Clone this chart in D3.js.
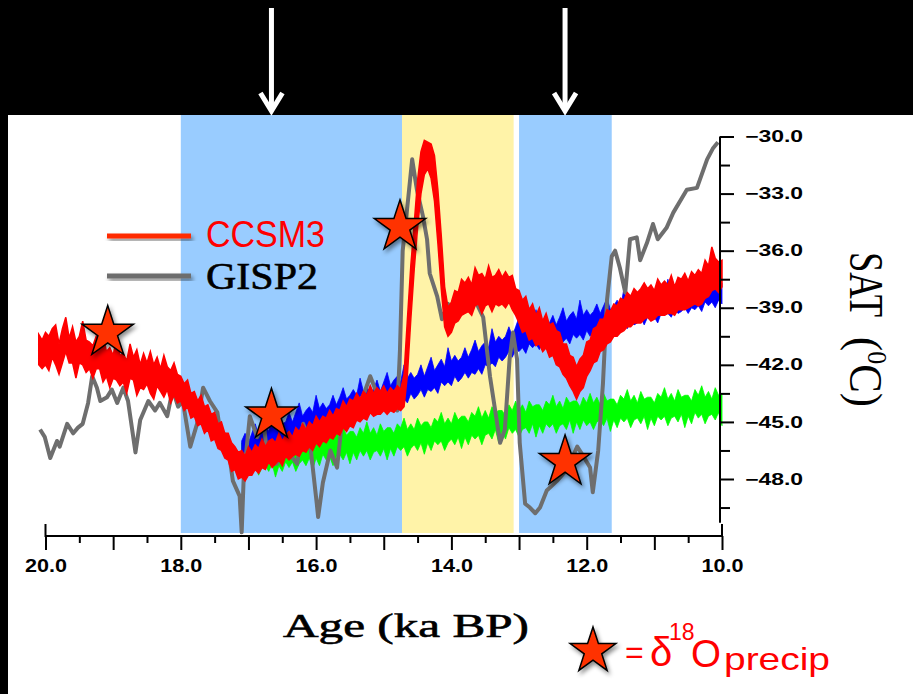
<!DOCTYPE html>
<html>
<head>
<meta charset="utf-8">
<script src="https://cdn.jsdelivr.net/npm/d3@7"></script>
<style>
  html, body { margin: 0; padding: 0; background: #000; }
  svg { display: block; }
</style>
</head>
<body>
<script>
// shaded periods (ka BP)
const bandStart = [18.0, 14.73, 13.0]
const bandEnd = [14.73, 13.08, 11.63]
const bandKind = ['cold', 'warm', 'cold']

// arrows on top + δ18O stars
const arrowAge = [16.66, 12.32]
const starAge = [19.08, 16.66, 14.76, 12.32]
const starTemp = [-40.3, -44.65, -34.75, -47.1]

// axis labels
const xTicks = [20, 18, 16, 14, 12, 10]
const yTicks = [-30, -33, -36, -39, -42, -45, -48]

// model time axis (ka BP), 50-yr output
const age = [20.1, 20.05, 20, 19.95, 19.9, 19.85, 19.8, 19.75, 19.7, 19.65, 19.6, 19.55, 19.5, 19.45, 19.4, 19.35, 19.3, 19.25, 19.2, 19.15,
  19.1, 19.05, 19, 18.95, 18.9, 18.85, 18.8, 18.75, 18.7, 18.65, 18.6, 18.55, 18.5, 18.45, 18.4, 18.35, 18.3, 18.25, 18.2, 18.15,
  18.1, 18.05, 18, 17.95, 17.9, 17.85, 17.8, 17.75, 17.7, 17.65, 17.6, 17.55, 17.5, 17.45, 17.4, 17.35, 17.3, 17.25, 17.2, 17.15,
  17.1, 17.05, 17, 16.95, 16.9, 16.85, 16.8, 16.75, 16.7, 16.65, 16.6, 16.55, 16.5, 16.45, 16.4, 16.35, 16.3, 16.25, 16.2, 16.15,
  16.1, 16.05, 16, 15.95, 15.9, 15.85, 15.8, 15.75, 15.7, 15.65, 15.6, 15.55, 15.5, 15.45, 15.4, 15.35, 15.3, 15.25, 15.2, 15.15,
  15.1, 15.05, 15, 14.95, 14.9, 14.85, 14.8, 14.75, 14.7, 14.65, 14.6, 14.55, 14.5, 14.45, 14.4, 14.35, 14.3, 14.25, 14.2, 14.15,
  14.1, 14.05, 14, 13.95, 13.9, 13.85, 13.8, 13.75, 13.7, 13.65, 13.6, 13.55, 13.5, 13.45, 13.4, 13.35, 13.3, 13.25, 13.2, 13.15,
  13.1, 13.05, 13, 12.95, 12.9, 12.85, 12.8, 12.75, 12.7, 12.65, 12.6, 12.55, 12.5, 12.45, 12.4, 12.35, 12.3, 12.25, 12.2, 12.15,
  12.1, 12.05, 12, 11.95, 11.9, 11.85, 11.8, 11.75, 11.7, 11.65, 11.6, 11.55, 11.5, 11.45, 11.4, 11.35, 11.3, 11.25, 11.2, 11.15,
  11.1, 11.05, 11, 10.95, 10.9, 10.85, 10.8, 10.75, 10.7, 10.65, 10.6, 10.55, 10.5, 10.45, 10.4, 10.35, 10.3, 10.25, 10.2, 10.15,
  10.1, 10.05, 10]

// CCSM3 (red): upper / lower edge of the noisy trace, one value per age
const ccsmHi = [-40.4, -40.7, -40.3, -40.5, -40.1, -39.9, -40.9, -40.1, -39.5, -40.6, -40.0, -40.8, -40.5, -39.7, -40.7, -40.8, -41.0, -40.5, -41.0, -40.4,
  -41.3, -41.1, -41.5, -40.6, -41.5, -41.4, -41.8, -40.9, -41.6, -41.2, -42.0, -41.4, -41.9, -41.3, -42.0, -41.6, -42.2, -41.5, -42.1, -42.3,
  -41.9, -42.5, -42.6, -43.0, -42.8, -43.5, -43.4, -43.9, -43.6, -44.2, -44.1, -44.6, -44.5, -45.1, -45.0, -45.6, -45.6, -46.1, -46.3, -46.6,
  -46.5, -46.8, -46.3, -46.6, -46.2, -46.4, -45.9, -46.3, -46.0, -45.9, -46.1, -45.6, -46.0, -45.7, -45.5, -45.8, -45.3, -45.5, -45.1, -45.4,
  -45.0, -45.2, -44.7, -45.0, -44.7, -44.8, -44.4, -44.7, -44.3, -44.4, -43.9, -44.2, -43.8, -43.9, -43.5, -43.8, -43.4, -43.6, -43.1, -43.5,
  -43.2, -43.4, -43.1, -43.5, -43.2, -43.4, -43.1, -43.3, -42.5, -39.6, -36.8, -34.6, -32.3, -30.8, -30.2, -30.3, -30.4, -31.0, -32.8, -35.2,
  -37.9, -39.0, -38.7, -38.1, -38.2, -37.5, -37.7, -37.4, -37.8, -36.9, -37.3, -37.2, -37.5, -36.8, -37.4, -37.3, -37.0, -37.4, -37.1, -37.4,
  -37.3, -38.0, -38.1, -38.6, -38.4, -39.1, -38.8, -39.4, -39.0, -39.7, -39.3, -39.9, -39.8, -40.2, -40.3, -40.9, -40.9, -41.5, -41.6, -42.1,
  -41.7, -41.5, -40.8, -40.7, -40.1, -40.0, -39.6, -39.6, -39.1, -39.2, -38.8, -38.9, -38.5, -38.6, -38.2, -38.4, -38.0, -38.2, -38.0, -37.7,
  -38.0, -37.8, -38.1, -37.5, -37.8, -37.6, -37.8, -37.3, -37.9, -37.4, -37.5, -37.2, -37.6, -37.1, -37.3, -37.0, -37.2, -36.5, -36.8, -35.8,
  -36.4, -36.6, -36.5]
const ccsmLo = [-42.0, -42.2, -42.0, -42.3, -41.6, -42.0, -42.5, -41.9, -41.3, -41.9, -41.9, -42.7, -41.9, -42.0, -42.4, -42.2, -42.7, -42.2, -42.2, -42.9,
  -42.6, -43.2, -42.7, -42.8, -43.1, -42.9, -43.5, -42.7, -42.8, -43.6, -43.2, -43.3, -43.0, -43.5, -43.8, -43.1, -43.4, -43.7, -43.3, -44.0,
  -43.6, -44.0, -43.9, -44.4, -44.2, -44.8, -44.7, -45.2, -45.1, -45.6, -45.4, -46.0, -45.9, -46.4, -46.5, -46.9, -47.0, -47.6, -47.5, -48.0,
  -47.9, -48.1, -47.8, -47.8, -47.5, -47.7, -47.4, -47.5, -47.1, -47.4, -47.2, -47.0, -47.3, -46.8, -47.0, -46.8, -46.7, -46.8, -46.5, -46.6,
  -46.3, -46.5, -46.1, -46.3, -46.0, -46.1, -45.8, -45.9, -45.6, -45.7, -45.3, -45.5, -45.2, -45.3, -44.9, -45.0, -44.8, -44.9, -44.5, -44.7,
  -44.6, -44.6, -44.4, -44.6, -44.4, -44.5, -44.3, -44.4, -44.2, -42.5, -39.6, -37.0, -34.8, -33.0, -32.0, -31.7, -32.2, -33.4, -35.6, -38.0,
  -40.0, -40.5, -40.3, -39.8, -39.7, -39.4, -39.3, -39.2, -39.4, -38.9, -38.8, -39.3, -38.9, -38.8, -39.2, -38.8, -38.9, -38.8, -39.0, -38.7,
  -39.1, -39.4, -39.8, -40.3, -40.2, -40.7, -40.6, -41.0, -40.9, -41.3, -41.1, -41.6, -41.5, -42.0, -42.1, -42.5, -42.7, -43.1, -43.4, -43.8,
  -43.4, -43.2, -42.6, -42.3, -41.9, -41.8, -41.3, -41.2, -40.9, -40.8, -40.5, -40.5, -40.3, -40.2, -40.0, -40.0, -39.8, -39.8, -39.8, -39.6,
  -39.5, -39.7, -39.6, -39.4, -39.4, -39.4, -39.3, -39.3, -39.4, -39.1, -39.1, -39.1, -39.0, -38.9, -38.8, -38.9, -38.8, -38.5, -38.4, -38.1,
  -38.0, -38.2, -37.9]

// blue and green runs start at 17.1 ka
const runStart = 17.1
const blueHi = [-46.0, -45.6, -46.1, -45.6, -45.1, -45.7, -45.4, -45.2, -45.5, -44.5, -45.2, -44.9, -45.1, -45.0, -44.5, -45.0, -44.5, -44.0, -44.7, -44.4,
  -44.2, -44.5, -43.6, -44.3, -44.0, -44.3, -44.1, -43.6, -44.1, -43.7, -43.2, -43.8, -43.6, -43.3, -43.6, -42.7, -43.4, -43.2, -43.4, -43.3,
  -42.8, -43.4, -42.9, -42.4, -43.1, -42.8, -42.6, -42.9, -42.0, -42.7, -42.4, -42.7, -42.5, -42.0, -42.6, -42.1, -41.6, -42.3, -42.0, -41.7,
  -42.1, -41.1, -41.8, -41.5, -41.8, -41.6, -41.1, -41.6, -41.2, -40.7, -41.3, -41.0, -40.8, -41.1, -40.1, -40.8, -40.5, -40.7, -40.5, -40.0,
  -40.5, -40.0, -39.5, -40.2, -39.9, -39.7, -40.1, -39.1, -39.9, -39.7, -39.9, -39.8, -39.4, -39.9, -39.5, -39.0, -39.7, -39.4, -39.2, -39.6,
  -38.6, -39.4, -39.1, -39.4, -39.2, -38.8, -39.3, -38.9, -38.5, -39.1, -38.9, -38.6, -39.0, -38.0, -38.8, -38.6, -38.8, -38.7, -38.2, -38.8,
  -38.3, -37.9, -38.6, -38.3, -38.1, -38.4, -37.5, -38.2, -38.0, -38.2, -38.1, -37.7, -38.2, -37.8, -37.3, -38.0, -37.7, -37.5, -37.9, -36.9,
  -37.7, -37.5, -37.7]
const blueLo = [-47.1, -46.9, -47.2, -46.8, -46.9, -46.6, -46.9, -46.4, -46.5, -46.3, -46.5, -46.0, -46.2, -46.1, -45.8, -46.1, -45.7, -45.8, -45.6, -45.9,
  -45.4, -45.5, -45.4, -45.6, -45.1, -45.4, -45.2, -44.9, -45.2, -44.9, -45.0, -44.7, -45.1, -44.5, -44.6, -44.5, -44.7, -44.3, -44.5, -44.4,
  -44.1, -44.5, -44.1, -44.2, -44.0, -44.3, -43.8, -43.9, -43.8, -44.0, -43.5, -43.8, -43.6, -43.3, -43.7, -43.3, -43.4, -43.2, -43.5, -42.9,
  -43.1, -42.9, -43.1, -42.6, -42.9, -42.7, -42.4, -42.7, -42.4, -42.5, -42.2, -42.5, -42.0, -42.1, -41.9, -42.1, -41.6, -41.8, -41.6, -41.3,
  -41.6, -41.2, -41.3, -41.1, -41.4, -40.9, -41.1, -40.9, -41.2, -40.8, -41.0, -40.9, -40.7, -41.0, -40.7, -40.8, -40.6, -40.9, -40.4, -40.6,
  -40.4, -40.7, -40.2, -40.5, -40.3, -40.1, -40.4, -40.1, -40.3, -40.0, -40.4, -39.8, -40.0, -39.8, -40.1, -39.7, -39.9, -39.8, -39.5, -39.9,
  -39.5, -39.7, -39.5, -39.8, -39.3, -39.4, -39.3, -39.5, -39.1, -39.3, -39.2, -39.0, -39.3, -39.0, -39.1, -38.9, -39.2, -38.7, -38.9, -38.7,
  -39.0, -38.6, -38.8]
const greenHi = [-46.1, -46.4, -45.9, -46.3, -45.8, -46.4, -46.1, -46.5, -45.9, -46.3, -46.2, -46.2, -46.4, -45.9, -46.2, -45.6, -46.2, -45.9, -46.2, -45.6,
  -46.0, -45.8, -45.8, -46.1, -45.5, -45.8, -45.3, -45.9, -45.5, -45.9, -45.3, -45.7, -45.5, -45.5, -45.8, -45.3, -45.6, -45.0, -45.6, -45.3,
  -45.7, -45.1, -45.5, -45.3, -45.3, -45.6, -45.1, -45.3, -44.8, -45.4, -45.1, -45.4, -44.8, -45.2, -45.0, -45.0, -45.3, -44.8, -45.0, -44.5,
  -45.1, -44.8, -45.1, -44.5, -44.9, -44.7, -44.7, -45.0, -44.5, -44.7, -44.2, -44.8, -44.4, -44.8, -44.2, -44.5, -44.4, -44.4, -44.7, -44.1,
  -44.4, -43.9, -44.4, -44.1, -44.5, -43.9, -44.2, -44.1, -44.1, -44.4, -43.9, -44.1, -43.6, -44.2, -43.9, -44.3, -43.7, -44.0, -43.9, -43.9,
  -44.2, -43.7, -44.0, -43.5, -44.0, -43.7, -44.1, -43.5, -43.9, -43.8, -43.8, -44.1, -43.6, -43.8, -43.3, -43.9, -43.6, -44.0, -43.4, -43.8,
  -43.7, -43.7, -44.0, -43.5, -43.7, -43.2, -43.8, -43.5, -43.9, -43.3, -43.7, -43.6, -43.6, -43.9, -43.3, -43.6, -43.1, -43.7, -43.4, -43.8,
  -43.2, -43.6, -43.5]
const greenLo = [-47.2, -47.6, -47.1, -47.5, -47.3, -47.8, -47.4, -47.3, -47.6, -47.2, -47.9, -47.3, -47.6, -47.1, -47.4, -47.1, -47.6, -47.2, -47.0, -47.3,
  -46.9, -47.5, -46.9, -47.3, -46.7, -47.0, -46.8, -47.3, -46.8, -46.7, -47.0, -46.6, -47.2, -46.6, -47.0, -46.5, -46.8, -46.5, -47.0, -46.6,
  -46.5, -46.8, -46.4, -47.0, -46.4, -46.8, -46.3, -46.5, -46.3, -46.8, -46.4, -46.2, -46.5, -46.1, -46.7, -46.1, -46.5, -46.0, -46.2, -46.0,
  -46.5, -46.1, -45.9, -46.2, -45.8, -46.4, -45.8, -46.2, -45.7, -45.9, -45.7, -46.2, -45.7, -45.6, -45.9, -45.4, -46.1, -45.5, -45.9, -45.3,
  -45.6, -45.4, -45.8, -45.4, -45.3, -45.6, -45.1, -45.8, -45.2, -45.6, -45.1, -45.3, -45.1, -45.6, -45.2, -45.1, -45.4, -44.9, -45.6, -45.0,
  -45.4, -44.9, -45.2, -45.0, -45.4, -45.0, -44.9, -45.2, -44.8, -45.5, -44.9, -45.3, -44.8, -45.0, -44.8, -45.3, -44.9, -44.8, -45.1, -44.7,
  -45.4, -44.8, -45.2, -44.7, -44.9, -44.7, -45.2, -44.8, -44.7, -45.0, -44.6, -45.3, -44.7, -45.1, -44.5, -44.8, -44.6, -45.1, -44.7, -44.6,
  -44.9, -44.5, -45.2]

// GISP2 (grey line)
const gispAge = [20.08, 20.01, 19.93, 19.83, 19.79, 19.68, 19.59, 19.52, 19.45, 19.37, 19.31, 19.24, 19.19, 19.09, 19.02, 18.94, 18.85, 18.78, 18.67, 18.6,
  18.48, 18.38, 18.31, 18.2, 18.12, 18.04, 17.97, 17.86, 17.76, 17.67, 17.57, 17.46, 17.42, 17.32, 17.23, 17.13, 17.1, 17.07, 16.98, 16.87,
  16.78, 16.73, 16.63, 16.58, 16.49, 16.43, 16.28, 16.19, 16.09, 15.99, 15.97, 15.9, 15.79, 15.69, 15.6, 15.5, 15.4, 15.31, 15.2, 15.1,
  15.01, 14.91, 14.8, 14.76, 14.72, 14.66, 14.58, 14.51, 14.42, 14.36, 14.32, 14.21, 14.14, 14.05, 13.98, 13.9, 13.8, 13.7, 13.61, 13.53,
  13.43, 13.28, 13.21, 13.14, 13.09, 13.03, 12.99, 12.91, 12.84, 12.76, 12.69, 12.59, 12.44, 12.29, 12.14, 12.05, 11.95, 11.91, 11.83, 11.76,
  11.7, 11.63, 11.58, 11.51, 11.43, 11.36, 11.26, 11.21, 11.11, 11.02, 10.95, 10.82, 10.72, 10.52, 10.37, 10.22, 10.13, 10.06]
const gispTemp = [-45.4, -45.8, -46.9, -46.0, -46.3, -45.1, -45.6, -45.3, -45.1, -44.0, -42.6, -43.2, -43.9, -43.7, -43.3, -44.0, -43.2, -43.9, -46.6, -44.9,
  -43.9, -44.4, -44.0, -44.7, -43.3, -44.2, -43.9, -46.3, -45.1, -43.2, -43.9, -44.5, -45.4, -45.8, -48.1, -48.9, -50.8, -47.9, -44.7, -45.8,
  -44.9, -46.5, -47.2, -47.2, -46.6, -46.5, -47.2, -45.1, -46.1, -49.3, -50.0, -48.2, -46.5, -47.4, -44.4, -45.1, -43.9, -43.7, -42.6, -43.5,
  -43.9, -44.0, -44.4, -41.2, -36.0, -34.0, -31.2, -32.8, -34.2, -35.4, -37.2, -38.4, -39.6, -38.8, -39.5, -38.6, -39.1, -38.4, -38.9, -39.5,
  -42.6, -46.1, -45.4, -41.7, -40.3, -41.7, -46.1, -49.3, -49.5, -49.8, -49.5, -48.6, -48.1, -47.5, -46.3, -46.8, -47.4, -48.7, -46.5, -43.0,
  -38.6, -36.3, -36.0, -36.9, -38.2, -35.4, -35.3, -36.5, -35.6, -34.6, -35.4, -34.8, -34.0, -32.8, -32.7, -31.2, -30.6, -30.3]

const W = 913
const H = 694

const svg = d3.select('body')
  .append('svg')
  .attr('width', W)
  .attr('height', H)

// soft shadow for stars / legend lines
svg.append('defs')
  .append('filter')
  .attr('id', 'shadow')
  .attr('x', '-40%').attr('y', '-40%')
  .attr('width', '180%').attr('height', '180%')
  .append('feDropShadow')
  .attr('dx', 2).attr('dy', 3)
  .attr('stdDeviation', 2)
  .attr('flood-color', '#000')
  .attr('flood-opacity', 0.45)

// slide background + white figure
svg.append('rect').attr('width', W).attr('height', H).attr('fill', '#000')
svg.append('rect').attr('x', 8).attr('y', 115).attr('width', W - 8).attr('height', H - 115).attr('fill', '#fff')

const x = d3.scaleLinear().domain([20, 10]).range([45.5, 722])
const y = d3.scaleLinear().domain([-30, -48]).range([136.5, 479])
const axisY = 536

// background bands
svg.append('g')
  .selectAll('rect')
  .data(d3.zip(bandStart, bandEnd, bandKind))
  .join('rect')
  .attr('x', d => x(d[0]))
  .attr('width', d => x(d[1]) - x(d[0]))
  .attr('y', 115)
  .attr('height', axisY - 3 - 115)
  .attr('fill', d => d[2] === 'cold' ? '#99ccff' : '#fff3a8')

const area = d3.area()
  .x(d => x(d[0]))
  .y0(d => y(d[1]))
  .y1(d => y(d[2]))

const runAge = age.slice(age.indexOf(runStart))

svg.append('path')
  .datum(d3.zip(runAge, greenLo, greenHi))
  .attr('d', area)
  .attr('fill', '#00ff00')
  .attr('stroke', '#00ff00')
  .attr('stroke-width', 0.8)

svg.append('path')
  .datum(d3.zip(runAge, blueLo, blueHi))
  .attr('d', area)
  .attr('fill', '#0000ff')
  .attr('stroke', '#0000ff')
  .attr('stroke-width', 0.8)

const line = d3.line()
  .x(d => x(d[0]))
  .y(d => y(d[1]))

svg.append('path')
  .datum(d3.zip(gispAge, gispTemp))
  .attr('d', line)
  .attr('fill', 'none')
  .attr('stroke', '#6e6e6e')
  .attr('stroke-width', 4)
  .attr('stroke-linejoin', 'round')

svg.append('path')
  .datum(d3.zip(age, ccsmLo, ccsmHi))
  .attr('d', area)
  .attr('fill', '#ff0000')
  .attr('stroke', '#ff0000')
  .attr('stroke-width', 1.5)

// x axis
const xAxis = svg.append('g').attr('transform', `translate(0,${axisY})`)
xAxis.append('g')
  .call(d3.axisBottom(x).tickValues(d3.range(19.5, 10, -1)).tickSize(7).tickFormat(''))
const majorX = xAxis.append('g')
  .call(d3.axisBottom(x).tickValues(d3.range(20, 9.9, -1)).tickSize(14).tickPadding(9)
    .tickFormat(d => xTicks.includes(d) ? d3.format('.1f')(d) : ''))
xAxis.selectAll('.domain').remove()
xAxis.selectAll('line').attr('stroke', '#000').attr('stroke-width', 2)
majorX.selectAll('text')
  .attr('fill', '#000')
  .attr('font-family', 'Liberation Sans, Arial, sans-serif')
  .attr('font-weight', 'bold')
  .attr('font-size', 19)
  .filter(d => xTicks.includes(d))
  .attr('textLength', 42)
  .attr('lengthAdjust', 'spacingAndGlyphs')
xAxis.append('path')
  .attr('d', `M${x(20)},-12V0H${x(10)}V-12`)
  .attr('fill', 'none')
  .attr('stroke', '#000')
  .attr('stroke-width', 2)

// y axis (right side)
const yAxis = svg.append('g').attr('transform', `translate(${x(10) - 2},0)`)
yAxis.append('g')
  .call(d3.axisRight(y).tickValues(d3.range(-31.5, -50, -3)).tickSize(10).tickFormat(''))
const majorY = yAxis.append('g')
  .call(d3.axisRight(y).tickValues(yTicks).tickSize(14).tickPadding(11)
    .tickFormat(d => '\u2212' + d3.format('.1f')(-d)))
yAxis.selectAll('.domain').remove()
yAxis.selectAll('line').attr('stroke', '#000').attr('stroke-width', 2)
yAxis.append('line')
  .attr('y1', y(-30))
  .attr('y2', y(-50.3))
  .attr('stroke', '#000')
  .attr('stroke-width', 2)
majorY.selectAll('text')
  .attr('fill', '#000')
  .attr('font-family', 'Liberation Sans, Arial, sans-serif')
  .attr('font-weight', 'bold')
  .attr('font-size', 16)
  .attr('textLength', 58)
  .attr('lengthAdjust', 'spacingAndGlyphs')

// axis titles
svg.append('text')
  .attr('x', 283)
  .attr('y', 637)
  .attr('font-family', 'Liberation Serif, Times New Roman, serif')
  .attr('font-size', 34)
  .attr('stroke', '#000')
  .attr('stroke-width', 0.6)
  .attr('textLength', 246)
  .attr('lengthAdjust', 'spacingAndGlyphs')
  .text('Age (ka BP)')

svg.append('text')
  .attr('transform', 'translate(850,252) rotate(90)')
  .attr('font-family', 'Liberation Serif, Times New Roman, serif')
  .attr('font-size', 48)
  .attr('textLength', 65)
  .attr('lengthAdjust', 'spacingAndGlyphs')
  .text('SAT')

const unit = svg.append('text')
  .attr('transform', 'translate(850,337) rotate(90)')
  .attr('font-family', 'Liberation Serif, Times New Roman, serif')
  .attr('font-size', 46)
  .attr('textLength', 70)
  .attr('lengthAdjust', 'spacingAndGlyphs')
unit.append('tspan').text('(')
unit.append('tspan').attr('font-size', 28).attr('dy', -18).text('0')
unit.append('tspan').attr('dy', 18).text('C)')

// legend
const legend = svg.append('g')
legend.append('rect')
  .attr('x', 107).attr('y', 233.5)
  .attr('width', 84).attr('height', 5)
  .attr('fill', '#ff2a00')
  .attr('filter', 'url(#shadow)')
legend.append('rect')
  .attr('x', 107).attr('y', 273.5)
  .attr('width', 84).attr('height', 5)
  .attr('fill', '#6d6d6d')
  .attr('filter', 'url(#shadow)')
legend.append('text')
  .attr('x', 206).attr('y', 247)
  .attr('font-family', 'Liberation Sans, Arial, sans-serif')
  .attr('font-size', 36)
  .attr('fill', '#ff0000')
  .attr('textLength', 119)
  .attr('lengthAdjust', 'spacingAndGlyphs')
  .text('CCSM3')
legend.append('text')
  .attr('x', 206).attr('y', 289)
  .attr('font-family', 'Liberation Serif, Times New Roman, serif')
  .attr('font-size', 38)
  .attr('fill', '#000')
  .attr('stroke', '#000')
  .attr('stroke-width', 0.6)
  .attr('textLength', 112)
  .attr('lengthAdjust', 'spacingAndGlyphs')
  .text('GISP2')

// arrows above the figure
const arrows = svg.append('g')
  .attr('stroke', '#fff')
  .attr('stroke-width', 5)
  .attr('fill', 'none')
arrowAge.forEach(a => {
  const ax = x(a)
  arrows.append('line').attr('x1', ax).attr('x2', ax).attr('y1', 8).attr('y2', 110)
  arrows.append('polyline').attr('points', `${ax - 11},93 ${ax},111 ${ax + 11},93`)
})

// δ18O stars
const starShape = d3.symbol(d3.symbolStar, 820)
svg.append('g')
  .selectAll('path')
  .data(d3.zip(starAge, starTemp))
  .join('path')
  .attr('transform', d => `translate(${x(d[0])},${y(d[1])})`)
  .attr('d', starShape)
  .attr('fill', '#ff3300')
  .attr('stroke', '#000')
  .attr('stroke-width', 1.5)
  .attr('filter', 'url(#shadow)')

// star key at the bottom
svg.append('path')
  .attr('transform', 'translate(593,651)')
  .attr('d', d3.symbol(d3.symbolStar, 650))
  .attr('fill', '#ff3300')
  .attr('stroke', '#000')
  .attr('stroke-width', 1.5)
  .attr('filter', 'url(#shadow)')

const key = svg.append('g')
  .attr('font-family', 'Liberation Sans, Arial, sans-serif')
  .attr('fill', '#ff0000')
key.append('text').attr('x', 625).attr('y', 663).attr('font-size', 32).text('=')
key.append('text').attr('x', 650).attr('y', 666).attr('font-size', 40).text('δ')
key.append('text').attr('x', 669).attr('y', 640).attr('font-size', 23).text('18')
key.append('text').attr('x', 691).attr('y', 667).attr('font-size', 38)
  .attr('textLength', 30).attr('lengthAdjust', 'spacingAndGlyphs').text('O')
key.append('text').attr('x', 724).attr('y', 670).attr('font-size', 32)
  .attr('textLength', 106).attr('lengthAdjust', 'spacingAndGlyphs').text('precip')
</script>
</body>
</html>
